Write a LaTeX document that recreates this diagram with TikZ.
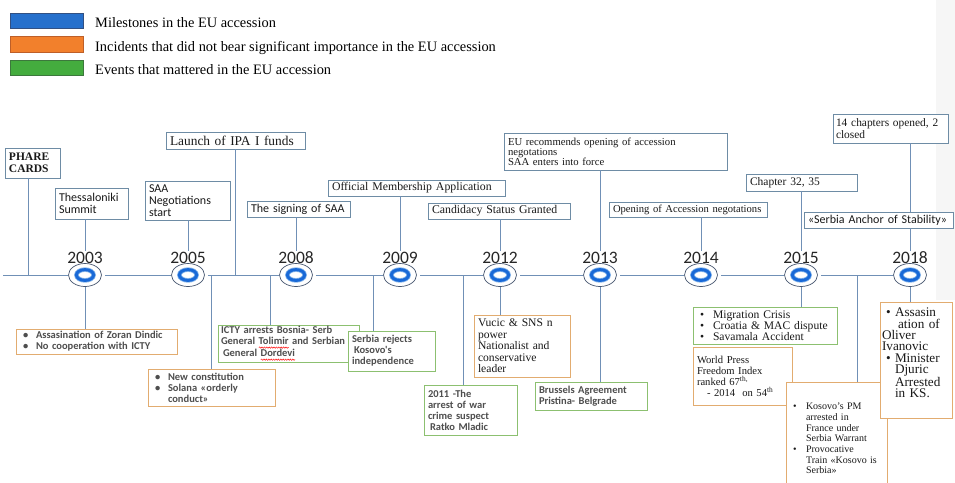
\documentclass[tikz,border=0pt]{standalone}
\usepackage{fontspec}
\setmainfont{Liberation Serif}
\newfontfamily\calfont{Carlito}
\usetikzlibrary{shapes.geometric,decorations.pathmorphing}

\definecolor{legblue}{RGB}{38,112,204}
\definecolor{legblueline}{RGB}{50,80,130}
\definecolor{legorange}{RGB}{242,128,44}
\definecolor{legorangeline}{RGB}{190,95,40}
\definecolor{leggreen}{RGB}{68,172,62}
\definecolor{leggreenline}{RGB}{60,120,60}
\definecolor{linkblue}{RGB}{112,144,182}
\definecolor{boxblue}{RGB}{110,140,165}
\definecolor{boxorange}{RGB}{226,172,112}
\definecolor{boxgreen}{RGB}{140,192,112}
\definecolor{ringgray}{RGB}{70,85,110}
\definecolor{ringblue}{RGB}{25,105,215}
\definecolor{ringlight}{RGB}{140,185,235}
\definecolor{inkgray}{RGB}{78,78,78}

\newsavebox{\wavebox}
\newcommand{\redwave}[1]{\sbox{\wavebox}{#1}\rlap{\tikz[baseline=0pt]\draw[red, fill=none, line width=0.45pt, decorate, decoration={snake, amplitude=0.7pt, segment length=2.4pt}] (0pt,-2.8pt) -- (\wd\wavebox,-2.8pt);}#1}
\newcommand{\bul}{\hspace*{3pt}\makebox[13pt][l]{\textbullet}}
\newcommand{\hang}{\hspace*{16pt}}

\tikzset{
  link/.style={draw=linkblue, line width=0.9pt},
  evbox/.style={draw=boxblue, line width=0.8pt, fill=white, align=left, inner xsep=4pt, inner ysep=1pt, text=black!90},
  badbox/.style={evbox, draw=boxorange},
  goodbox/.style={evbox, draw=boxgreen},
  topsans/.style={font=\calfont\fontsize{12}{12.5}\selectfont},
  lowsans/.style={font=\calfont\bfseries\fontsize{10.5}{11}\selectfont, text=inkgray},
  legtext/.style={anchor=base west, inner sep=0pt, font=\fontsize{14.4}{14.4}\selectfont},
  yearmark/.style={ellipse, draw=ringgray, line width=0.7pt, minimum width=33pt, minimum height=23pt, inner sep=0pt},
  yeartext/.style={font=\calfont\fontsize{17.5}{17.5}\selectfont, text=black!85, inner sep=0.5pt},
}

\begin{document}
\begin{tikzpicture}[x=1pt, y=-1pt]
\useasboundingbox (0,0) rectangle (955,482);
\clip (0,0) rectangle (955,482);
\fill[gray!7] (936,0) rectangle (955,300);

\filldraw[fill=legblue, draw=legblueline, line width=0.6pt] (10,13) rectangle (83,28);
\filldraw[fill=legorange, draw=legorangeline, line width=0.6pt] (10,36) rectangle (83,52);
\filldraw[fill=leggreen, draw=leggreenline, line width=0.6pt] (10,60) rectangle (83,75);
\node[legtext] (lmile) at (95,27) {Milestones in the EU accession};
\node[legtext] (lincid) at (95,51) {Incidents that did not bear significant importance in the EU accession};
\node[legtext] (levent) at (95,74) {Events that mattered in the EU accession};

\foreach \yr/\xx in {2003/85,2005/188,2008/296,2009/400,2012/500,2013/600,2014/701,2015/801,2018/910}{
  \node[yearmark] (y\yr) at (\xx,275) {};
  \draw[ringlight, line width=4.6pt] (y\yr.center) ellipse [x radius=8.6, y radius=5.4];
  \draw[ringblue, line width=3pt] (y\yr.center) ellipse [x radius=8.6, y radius=5.4];
  \node[yeartext] (t\yr) at (\xx,257.5) {\yr};
}

\coordinate (axstart) at (3,275);
\coordinate (phfoot) at (28,275);
\coordinate (ipafoot) at (235,275);
\coordinate (constfoot) at (211,275);
\coordinate (ictyfoot) at (270,275);
\coordinate (kosfoot) at (373,275);
\coordinate (mladfoot) at (463,275);
\coordinate (kspmfoot) at (857,275);

\draw[link] (axstart) -- (y2003.west);
\foreach \a/\b in {2003/2005,2005/2008,2008/2009,2009/2012,2012/2013,2013/2014,2014/2015,2015/2018}
  \draw[link, shorten <=3pt] (y\a.east) -- (y\b.west);

\node[evbox, font=\bfseries\fontsize{11.5}{12}\selectfont, text width=47pt, minimum height=30pt] (phare) at (32.5,163) {PHARE\\CARDS};
\node[evbox, topsans, text width=65pt, minimum height=31pt] (thess) at (91.5,203.5) {Thessaloniki\\Summit};
\node[evbox, topsans, font=\calfont\fontsize{12}{12}\selectfont, text width=77pt, minimum height=39pt] (saaneg) at (187.5,200.5) {SAA\\Negotiations\\start};
\node[evbox, font=\fontsize{13.4}{14}\selectfont, text width=131pt, minimum height=17pt] (ipa) at (235.5,140.5) {Launch of IPA I funds};
\node[evbox, topsans, text width=95pt, minimum height=16pt] (signing) at (298.5,209) {The signing of SAA};
\node[evbox, font=\fontsize{11.8}{12}\selectfont, text width=169pt, minimum height=16pt] (official) at (416.5,188) {Official Membership Application};
\node[evbox, font=\fontsize{11.8}{12}\selectfont, text width=134pt, minimum height=16pt] (candidacy) at (499,211) {Candidacy Status Granted};
\node[evbox, font=\fontsize{10.7}{10.2}\selectfont, text width=215pt, minimum height=37pt] (eurec) at (615.5,151.5) {EU recommends opening of accession\\negotations\\SAA enters into force};
\node[evbox, font=\fontsize{10.6}{11}\selectfont, text width=150pt, minimum height=15pt] (opening) at (688,209.5) {Opening of Accession negotations};
\node[evbox, font=\fontsize{11.5}{12}\selectfont, text width=103pt, minimum height=17pt] (chapter) at (801.5,182.5) {Chapter 32, 35};
\node[evbox, font=\fontsize{11.4}{12}\selectfont, inner xsep=3pt, text width=109pt, minimum height=29pt] (ch14) at (890.5,128.5) {14 chapters opened, 2\\closed};
\node[evbox, topsans, text width=141pt, minimum height=16pt] (anchor) at (878.5,220) {«Serbia Anchor of Stability»};

\node[badbox, lowsans, text width=153pt, minimum height=25pt] (dindic) at (96.5,341.5) {\bul Assasination of Zoran Dindic\\\bul No cooperation with ICTY};
\node[badbox, lowsans, text width=119pt, minimum height=37pt] (constit) at (211.5,387.5) {\bul New constitution\\\bul Solana «orderly\\\hang conduct»};
\node[goodbox, lowsans, inner xsep=3pt, text width=135pt, minimum height=37pt] (icty) at (288.5,343.5) {ICTY arrests Bosnia- Serb\\General \redwave{Tolimir} and Serbian\\\hspace*{2pt}General \redwave{Dordevi}};
\node[goodbox, lowsans, text width=79pt, minimum height=40pt] (kosovo) at (391.5,351) {Serbia rejects\\\hspace*{2pt}Kosovo's\\independence};
\node[goodbox, lowsans, text width=85pt, minimum height=50pt] (mladic) at (470.5,410) {2011 -The\\arrest of war\\crime suspect\\\hspace*{2pt}Ratko Mladic};
\node[badbox, font=\fontsize{11.6}{11.5}\selectfont, text width=88pt, minimum height=62pt] (vucic) at (522,346) {Vucic \& SNS n\\power\\Nationalist and\\conservative\\leader};
\node[goodbox, lowsans, text width=104pt, minimum height=28pt] (brussels) at (591,396) {Brussels Agreement\\Pristina- Belgrade};
\node[goodbox, font=\fontsize{11.6}{11}\selectfont, text width=136pt, minimum height=37pt] (migration) at (765,325.5) {\bul Migration Crisis\\\bul Croatia \& MAC dispute\\\bul Savamala Accident};
\node[badbox, font=\fontsize{10.6}{11}\selectfont, text width=91pt, minimum height=58pt] (press) at (742.5,376) {World Press\\Freedom Index\\ranked 67\textsuperscript{th,}\\\hspace*{10pt}- 2014\ \ on 54\textsuperscript{th}};
\node[badbox, font=\fontsize{10}{10.7}\selectfont, text width=93pt, minimum height=113pt] (kspm) at (836.5,438.5) {\bul Kosovo's PM\\\hang arrested in\\\hang France under\\\hang Serbia Warrant\\\bul Provocative\\\hang Train «Kosovo is\\\hang Serbia»};
\node[badbox, font=\fontsize{13.2}{11.3}\selectfont, inner xsep=2pt, text width=68pt, minimum height=116pt] (ivan) at (916,360) {\hspace*{4pt}\makebox[9pt][l]{\textbullet}Assasin\\\hspace*{16pt}ation of\\Oliver\\Ivanovic\\\hspace*{4pt}\makebox[9pt][l]{\textbullet}Minister\\\hspace*{13pt}Djuric\\\hspace*{13pt}Arrested\\\hspace*{13pt}in KS.\par\vspace*{14pt}};

\draw[link] (phare.south -| phfoot) -- (phfoot);
\draw[link] (t2003.north |- thess.south) -- (t2003.north);
\draw[link] (t2005.north |- saaneg.south) -- (t2005.north);
\draw[link] (ipa.south -| ipafoot) -- (ipafoot);
\draw[link] (t2008.north |- signing.south) -- (t2008.north);
\draw[link] (t2009.north |- official.south) -- (t2009.north);
\draw[link] (t2012.north |- candidacy.south) -- (t2012.north);
\draw[link] (t2013.north |- eurec.south) -- (t2013.north);
\draw[link] (t2014.north |- opening.south) -- (t2014.north);
\draw[link] (t2015.north |- chapter.south) -- (t2015.north);
\draw[link] (t2018.north |- ch14.south) -- (t2018.north |- anchor.north);
\draw[link] (t2018.north |- anchor.south) -- (t2018.north);

\draw[link] (y2003.south) -- (y2003.south |- dindic.north);
\draw[link] (constfoot) -- (constfoot |- constit.north);
\draw[link] (ictyfoot) -- (ictyfoot |- icty.north);
\draw[link] (kosfoot) -- (kosfoot |- kosovo.north);
\draw[link] (mladfoot) -- (mladfoot |- mladic.north);
\draw[link] (y2012.south) -- (y2012.south |- vucic.north);
\draw[link] (y2013.south) -- (y2013.south |- brussels.north);
\draw[link] (y2015.south) -- (y2015.south |- migration.north);
\draw[link] (kspmfoot) -- (kspmfoot |- kspm.north);
\draw[link] (y2018.south) -- (y2018.south |- ivan.north);

\end{tikzpicture}
\end{document}
